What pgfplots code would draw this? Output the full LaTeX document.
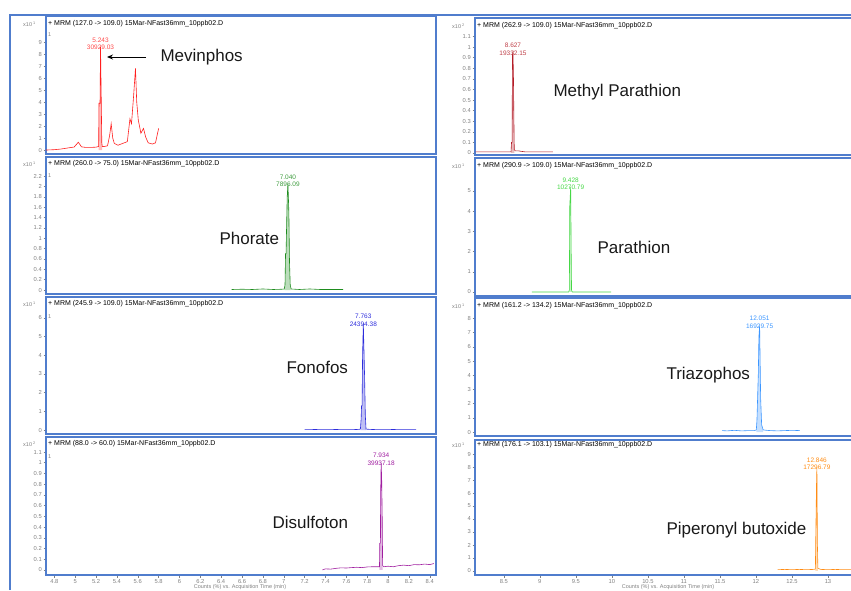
\documentclass[border=0pt]{standalone}
\usepackage{pgfplots}
\pgfplotsset{compat=1.18}
\usepackage{fontspec}
\setmainfont{Liberation Sans}
\usetikzlibrary{arrows.meta}
\definecolor{frameblue}{RGB}{80,125,205}
\definecolor{mev}{RGB}{255,30,30}
\definecolor{mpar}{RGB}{180,30,40}
\definecolor{phor}{RGB}{30,140,30}
\definecolor{para}{RGB}{70,215,70}
\definecolor{fono}{RGB}{45,45,220}
\definecolor{tria}{RGB}{60,150,255}
\definecolor{disu}{RGB}{160,30,160}
\definecolor{pipe}{RGB}{255,140,20}
\pgfplotsset{
  chrom/.style={scale only axis, anchor=south west,
    axis line style={draw=frameblue, line width=1.1pt},
    tick style={draw=gray, line width=0.5pt},
    major tick length=2.5pt, tick align=outside,
    ytick pos=left, xtick pos=bottom,
    /pgf/number format/assume math mode=true,
    ticklabel style={font=\fontsize{5.8}{6}\selectfont, text=gray, inner sep=1.5pt},
    clip=true},
  notx/.style={xmajorticks=false},
  leftx/.style={xmin=4.72, xmax=8.46, width=390pt},
  rightx/.style={xmin=8.1, xmax=13.375, width=380pt}
}
\tikzset{
  pk/.style={font=\fontsize{6.5}{7.5}\selectfont, align=center, anchor=south, inner sep=0pt, yshift=-3pt},
  cname/.style={anchor=west, font=\fontsize{17}{20}\selectfont, text=black!90},
  hdr/.style={anchor=west, font=\fontsize{7}{7}\selectfont, inner sep=0pt},
  mult/.style={anchor=west, font=\fontsize{5.5}{6}\selectfont, text=gray, inner sep=0pt}
}
\begin{document}
\begin{tikzpicture}
\path[use as bounding box] (0,0) rectangle (851pt,590pt);
% ---------- L1 Mevinphos
\begin{axis}[chrom, leftx, notx, at={(46pt,436pt)}, height=138pt,
  ymin=-0.33, ymax=11.17, ytick={0,1,...,9}]
\addplot[fill=mev!30, draw=none] coordinates {(5.225,0.3)(5.228,3.9)(5.238,3.9)(5.243,8.6)(5.250,4.0)(5.255,0.6)(5.258,0.3)} \closedcycle;
\addplot[mev, line width=0.6pt] coordinates {(4.72,0.0)(4.80,0.03)(4.86,0.08)(4.95,0.2)(4.99,0.25)(5.01,0.45)(5.03,0.65)(5.05,0.4)(5.06,0.27)(5.10,0.22)(5.15,0.22)(5.20,0.24)(5.225,0.3)(5.228,3.9)(5.238,3.9)(5.243,8.6)(5.250,4.0)(5.255,0.6)(5.26,0.28)(5.28,0.3)(5.31,0.35)(5.33,1.2)(5.345,2.2)(5.36,1.0)(5.375,0.55)(5.41,0.4)(5.47,0.6)(5.50,0.7)(5.525,2.6)(5.54,2.2)(5.56,4.5)(5.578,6.8)(5.59,4.0)(5.605,2.5)(5.63,1.4)(5.655,1.8)(5.675,1.1)(5.70,0.6)(5.74,0.5)(5.77,0.6)(5.80,1.8)};
\node[pk, text=mev!80] at (axis cs:5.243,8.6) {5.243\\30929.03};
\end{axis}
% ---------- L2 Phorate
\begin{axis}[chrom, leftx, notx, at={(46pt,296pt)}, height=137pt,
  ymin=-0.077, ymax=2.57, ytick={0,0.2,0.4,0.6,0.8,1,1.2,1.4,1.6,1.8,2,2.2}]
\addplot[fill=phor!30, draw=none] coordinates {(7.008,0.02)(7.012,0.1)(7.017,0.7)(7.022,0.7)(7.033,1.8)(7.040,2.05)(7.049,1.5)(7.055,0.55)(7.062,0.1)(7.066,0.02)} \closedcycle;
\addplot[phor, line width=0.6pt] coordinates {(6.50,0.01)(6.60,0.015)(6.70,0.01)(6.80,0.02)(6.90,0.01)(6.98,0.015)(7.005,0.02)(7.012,0.1)(7.017,0.7)(7.022,0.7)(7.033,1.8)(7.040,2.05)(7.049,1.5)(7.055,0.55)(7.062,0.1)(7.070,0.02)(7.15,0.01)(7.25,0.02)(7.35,0.01)(7.45,0.01)(7.57,0.01)};
\node[pk, text=phor!85] at (axis cs:7.040,2.05) {7.040\\7896.09};
\end{axis}
% ---------- L3 Fonofos
\begin{axis}[chrom, leftx, notx, at={(46pt,156pt)}, height=137pt,
  ymin=-0.21, ymax=7.11, ytick={0,1,...,6}]
\addplot[fill=fono!30, draw=none] coordinates {(7.738,0.05)(7.742,0.6)(7.746,1.3)(7.751,1.3)(7.756,4.0)(7.763,5.7)(7.775,2.9)(7.782,0.8)(7.789,0.05)} \closedcycle;
\addplot[fono, line width=0.6pt] coordinates {(7.20,0.02)(7.30,0.03)(7.40,0.02)(7.50,0.03)(7.60,0.02)(7.70,0.03)(7.735,0.05)(7.742,0.6)(7.746,1.3)(7.751,1.3)(7.756,4.0)(7.763,5.7)(7.775,2.9)(7.782,0.8)(7.789,0.05)(7.85,0.03)(7.95,0.02)(8.05,0.03)(8.15,0.02)(8.27,0.02)};
\node[pk, text=fono] at (axis cs:7.763,5.7) {7.763\\24394.38};
\end{axis}
% ---------- L4 Disulfoton
\begin{axis}[chrom, leftx, at={(46pt,15pt)}, height=138pt,
  ymin=-0.047, ymax=1.24, ytick={0,0.1,0.2,0.3,0.4,0.5,0.6,0.7,0.8,0.9,1,1.1},
  xtick={4.8,5,5.2,5.4,5.6,5.8,6,6.2,6.4,6.6,6.8,7,7.2,7.4,7.6,7.8,8,8.2,8.4}]
\addplot[fill=disu!30, draw=none] coordinates {(7.918,0.03)(7.921,0.25)(7.927,0.25)(7.929,0.7)(7.934,1.0)(7.939,0.85)(7.944,0.5)(7.948,0.04)} \closedcycle;
\addplot[disu, line width=0.6pt] coordinates {(7.37,0.00)(7.40,0.01)(7.45,0.008)(7.50,0.015)(7.55,0.02)(7.60,0.018)(7.65,0.022)(7.70,0.025)(7.75,0.022)(7.80,0.028)(7.85,0.03)(7.90,0.03)(7.918,0.03)(7.921,0.25)(7.927,0.25)(7.929,0.7)(7.934,1.0)(7.939,0.85)(7.944,0.5)(7.948,0.04)(7.96,0.03)(8.00,0.035)(8.05,0.03)(8.10,0.04)(8.15,0.045)(8.20,0.04)(8.25,0.05)(8.30,0.048)(8.35,0.055)(8.40,0.05)(8.44,0.06)};
\node[pk, text=disu] at (axis cs:7.934,1.0) {7.934\\39937.18};
\end{axis}
% ---------- R1 Methyl Parathion
\begin{axis}[chrom, rightx, notx, at={(475pt,435pt)}, height=137pt,
  ymin=-0.019, ymax=1.274, ytick={0,0.1,0.2,0.3,0.4,0.5,0.6,0.7,0.8,0.9,1,1.1}]
\addplot[fill=mpar!30, draw=none] coordinates {(8.603,0.01)(8.607,0.1)(8.615,0.1)(8.620,0.93)(8.627,0.95)(8.634,0.7)(8.640,0.3)(8.645,0.03)} \closedcycle;
\addplot[mpar, line width=0.6pt] coordinates {(8.11,0.01)(8.2,0.01)(8.3,0.01)(8.4,0.01)(8.5,0.01)(8.60,0.01)(8.607,0.1)(8.615,0.1)(8.620,0.93)(8.627,0.95)(8.634,0.7)(8.640,0.3)(8.645,0.03)(8.66,0.02)(8.70,0.02)(8.75,0.015)(8.80,0.01)(8.9,0.01)(9.0,0.01)(9.18,0.01)};
\node[pk, text=mpar!85] at (axis cs:8.627,0.95) {8.627\\19332.15};
\end{axis}
% ---------- R2 Parathion
\begin{axis}[chrom, rightx, notx, at={(475pt,294pt)}, height=138pt,
  ymin=-0.2, ymax=6.63, ytick={0,1,...,5}]
\addplot[fill=para!30, draw=none] coordinates {(9.408,0)(9.41,0.1)(9.415,4.2)(9.428,5.2)(9.435,2.0)(9.44,0.1)(9.445,0)} \closedcycle;
\addplot[para, line width=0.6pt] coordinates {(8.89,0)(9.0,0.0)(9.2,0.0)(9.40,0.0)(9.41,0.1)(9.415,4.2)(9.428,5.2)(9.435,2.0)(9.44,0.1)(9.45,0.0)(9.6,0)(9.8,0)(9.99,0)};
\node[pk, text=para] at (axis cs:9.428,5.2) {9.428\\10270.79};
\end{axis}
% ---------- R3 Triazophos
\begin{axis}[chrom, rightx, notx, at={(475pt,154pt)}, height=138pt,
  ymin=-0.28, ymax=9.44, ytick={0,1,...,8}]
\addplot[fill=tria!30, draw=none] coordinates {(12.005,0.15)(12.014,0.85)(12.033,4.15)(12.041,6.7)(12.051,7.5)(12.065,2.4)(12.079,0.5)(12.10,0.15)} \closedcycle;
\addplot[tria, line width=0.6pt] coordinates {(11.53,0.1)(11.6,0.08)(11.7,0.12)(11.8,0.08)(11.9,0.1)(11.98,0.1)(12.005,0.15)(12.014,0.85)(12.033,4.15)(12.041,6.7)(12.051,7.5)(12.065,2.4)(12.079,0.5)(12.10,0.15)(12.15,0.12)(12.2,0.1)(12.3,0.08)(12.4,0.1)(12.5,0.12)(12.61,0.1)};
\node[pk, text=tria] at (axis cs:12.051,7.5) {12.051\\16929.75};
\end{axis}
% ---------- R4 Piperonyl butoxide
\begin{axis}[chrom, rightx, at={(475pt,15pt)}, height=135pt,
  ymin=-0.31, ymax=10.08, ytick={0,1,...,9},
  xtick={8.5,9,9.5,10,10.5,11,11.5,12,12.5,13}]
\addplot[fill=pipe!30, draw=none] coordinates {(12.825,0.15)(12.83,2.4)(12.835,4.4)(12.84,6.5)(12.846,8.0)(12.853,2.0)(12.86,0.2)} \closedcycle;
\addplot[pipe, line width=0.6pt] coordinates {(12.30,0.1)(12.4,0.12)(12.5,0.1)(12.6,0.12)(12.7,0.1)(12.8,0.12)(12.825,0.15)(12.83,2.4)(12.835,4.4)(12.84,6.5)(12.846,8.0)(12.853,2.0)(12.86,0.2)(12.9,0.12)(13.0,0.1)(13.1,0.12)(13.2,0.1)(13.4,0.1)};
\node[pk, text=pipe] at (axis cs:12.846,8.0) {12.846\\17296.79};
\end{axis}
% ---------- frames
\draw[frameblue, line width=1.4pt] (10pt,0pt) -- (10pt,575pt) -- (851pt,575pt);
% ---------- headers
\node[hdr] at (48pt,566pt) {+ MRM (127.0 -> 109.0) 15Mar-NFast36mm\_10ppb02.D};
\node[hdr] at (48pt,426pt) {+ MRM (260.0 -> 75.0) 15Mar-NFast36mm\_10ppb02.D};
\node[hdr] at (48pt,286pt) {+ MRM (245.9 -> 109.0) 15Mar-NFast36mm\_10ppb02.D};
\node[hdr] at (48pt,146pt) {+ MRM (88.0 -> 60.0) 15Mar-NFast36mm\_10ppb02.D};
\node[hdr] at (477pt,564pt) {+ MRM (262.9 -> 109.0) 15Mar-NFast36mm\_10ppb02.D};
\node[hdr] at (477pt,424pt) {+ MRM (290.9 -> 109.0) 15Mar-NFast36mm\_10ppb02.D};
\node[hdr] at (477pt,284pt) {+ MRM (161.2 -> 134.2) 15Mar-NFast36mm\_10ppb02.D};
\node[hdr] at (477pt,145pt) {+ MRM (176.1 -> 103.1) 15Mar-NFast36mm\_10ppb02.D};
% ---------- multipliers
\node[mult] at (23pt,566pt) {x10\textsuperscript{ 1}};
\node[mult] at (23pt,426pt) {x10\textsuperscript{ 1}};
\node[mult] at (23pt,286pt) {x10\textsuperscript{ 1}};
\node[mult] at (23pt,146pt) {x10\textsuperscript{ 2}};
\node[mult] at (452pt,564pt) {x10\textsuperscript{ 2}};
\node[mult] at (452pt,424pt) {x10\textsuperscript{ 1}};
\node[mult] at (452pt,284pt) {x10\textsuperscript{ 1}};
\node[mult] at (452pt,145pt) {x10\textsuperscript{ 1}};
\node[mult] at (48pt,555pt) {1};
\node[mult] at (48pt,414pt) {1};
\node[mult] at (48pt,273pt) {1};
\node[mult] at (48pt,133pt) {1};
% ---------- compound names
\node[cname] at (157pt,533pt) {Mevinphos};
\draw[-{Stealth[length=6pt,width=5pt]}, line width=0.9pt] (146pt,533pt) -- (107pt,533pt);
\node[cname] at (550pt,498pt) {Methyl Parathion};
\node[cname] at (216pt,352pt) {Phorate};
\node[cname] at (594pt,343pt) {Parathion};
\node[cname] at (283pt,223pt) {Fonofos};
\node[cname] at (663pt,215pt) {Triazophos};
\node[cname] at (269pt,68pt) {Disulfoton};
\node[cname] at (663pt,60pt) {Piperonyl butoxide};
% ---------- x labels
\node[font=\fontsize{5.5}{6}\selectfont, text=gray, anchor=south, inner sep=0pt] at (240pt,0.5pt) {Counts (\%) vs. Acquisition Time (min)};
\node[font=\fontsize{5.5}{6}\selectfont, text=gray, anchor=south, inner sep=0pt] at (668pt,0.5pt) {Counts (\%) vs. Acquisition Time (min)};
\end{tikzpicture}
\end{document}
